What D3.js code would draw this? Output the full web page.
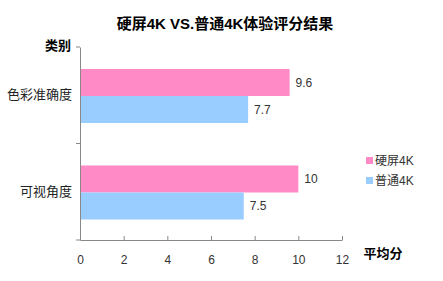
<!DOCTYPE html>
<html>
<head>
<meta charset="utf-8">
<script src="https://cdn.jsdelivr.net/npm/d3@7"></script>
<style>
body { margin: 0; background: #fff; }
svg text { font-family: "Liberation Sans", Arial, "Noto Sans CJK SC", sans-serif; }
</style>
</head>
<body>
<div id="chart"></div>
<script>
var categories = ["色彩准确度", "可视角度"];
var seriesNames = ["硬屏4K", "普通4K"];
var hardScreen = [9.6, 10];
var normalScreen = [7.7, 7.5];
var xTicks = [0, 2, 4, 6, 8, 10, 12];
var colors = ["#ff8ac6", "#99ccff"];

var width = 443, height = 281;
var svg = d3.select("#chart").append("svg")
    .attr("width", width)
    .attr("height", height);

var x = d3.scaleLinear().domain([0, 12]).range([80, 342]);
var y = d3.scaleBand().domain(categories).range([47, 240]);
var sub = d3.scaleBand().domain(seriesNames).range([22, 76]);

svg.append("text")
    .attr("x", 225).attr("y", 29)
    .attr("text-anchor", "middle")
    .style("font-size", "15px").style("font-weight", "bold")
    .text("硬屏4K VS.普通4K体验评分结果");

svg.append("text")
    .attr("x", 58).attr("y", 50)
    .attr("text-anchor", "middle")
    .style("font-size", "13px").style("font-weight", "bold")
    .text("类别");

svg.append("text")
    .attr("x", 383).attr("y", 258)
    .attr("text-anchor", "middle")
    .style("font-size", "13px").style("font-weight", "bold")
    .text("平均分");

// bars
var rows = categories.map(function (c, i) {
    return [{cat: c, s: seriesNames[0], v: hardScreen[i]}, {cat: c, s: seriesNames[1], v: normalScreen[i]}];
});
var g = svg.append("g");
rows.forEach(function (r) {
    r.forEach(function (d, j) {
        g.append("rect")
            .attr("x", x(0))
            .attr("y", y(d.cat) + sub(d.s))
            .attr("width", x(d.v) - x(0))
            .attr("height", sub.bandwidth())
            .attr("fill", colors[j]);
        g.append("text")
            .attr("x", x(d.v) + 6)
            .attr("y", y(d.cat) + sub(d.s) + sub.bandwidth() / 2 + 4)
            .style("font-size", "12px").style("fill", "#333")
            .text(d.v);
    });
});

// axes
var xAxis = svg.append("g")
    .attr("transform", "translate(0,240)")
    .call(d3.axisBottom(x).tickValues(xTicks).tickSize(4).tickSizeOuter(0).tickPadding(11));
xAxis.select(".domain").attr("stroke", "#888");
xAxis.selectAll(".tick line").attr("stroke", "#888").attr("y1", -4).attr("y2", 0);
xAxis.selectAll("text").style("font-size", "12px").style("fill", "#333")
    .style("font-family", "Liberation Sans, Arial, sans-serif");

var yAxis = svg.append("g")
    .attr("transform", "translate(80,0)")
    .call(d3.axisLeft(y).tickSize(0).tickPadding(8));
yAxis.select(".domain").attr("stroke", "#888");
yAxis.selectAll("text").style("font-size", "13px").style("fill", "#222");
[47, y.range()[0] + y.step(), 240].forEach(function (t) {
    yAxis.append("line").attr("x1", -4).attr("x2", 0).attr("y1", t).attr("y2", t).attr("stroke", "#888");
});

// legend
var legend = svg.append("g");
seriesNames.forEach(function (s, i) {
    legend.append("rect")
        .attr("x", 366).attr("y", 157 + i * 20)
        .attr("width", 7).attr("height", 7)
        .attr("fill", colors[i]);
    legend.append("text")
        .attr("x", 375).attr("y", 165 + i * 20)
        .style("font-size", "12px").style("fill", "#333")
        .text(s);
});
</script>
</body>
</html>
